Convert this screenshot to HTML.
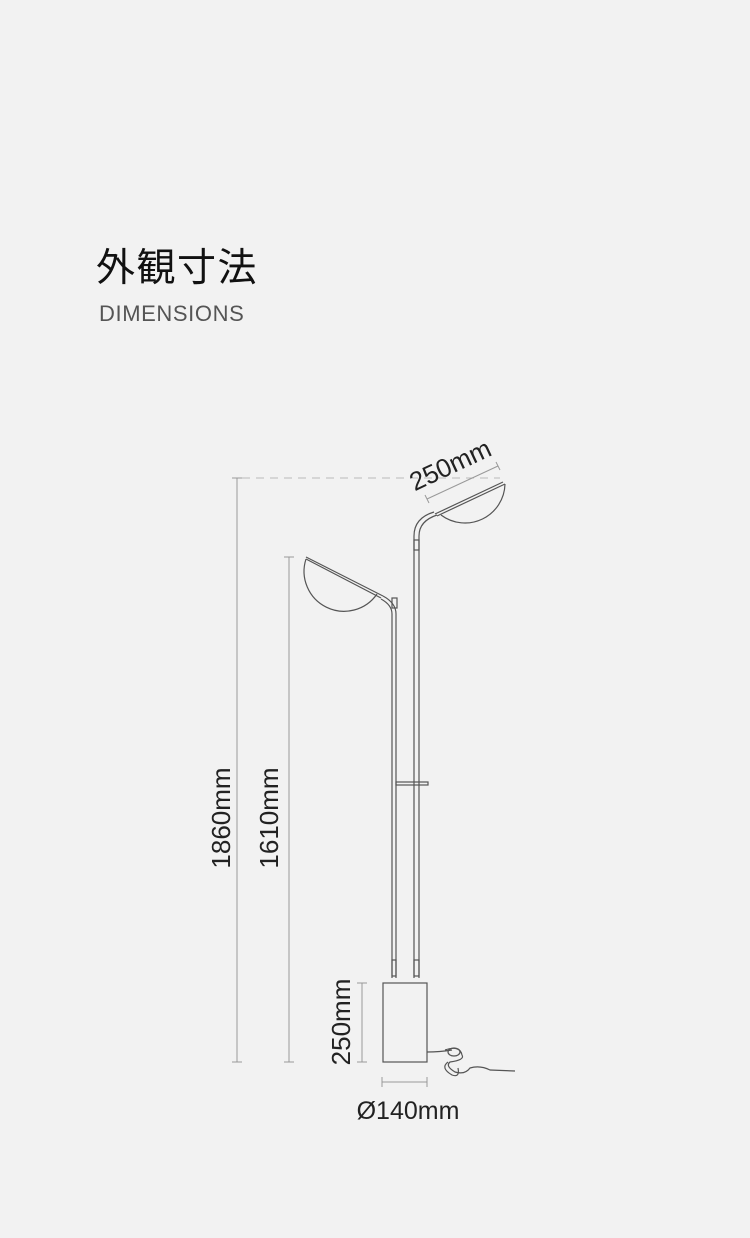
<!DOCTYPE html>
<html><head><meta charset="utf-8"><style>
html,body{margin:0;padding:0;background:#f2f2f2;}
body{width:750px;height:1238px;position:relative;overflow:hidden;font-family:"Liberation Sans","Noto Sans CJK JP",sans-serif;}
.t1{position:absolute;left:96px;top:246px;font-size:39px;color:#111;font-family:"Noto Sans CJK JP",sans-serif;letter-spacing:1.5px;line-height:1;}
.t2{position:absolute;left:99px;top:303px;font-size:22px;color:#555;line-height:1;letter-spacing:0.6px;}
</style></head><body>
<div class="t1">外観寸法</div>
<div class="t2">DIMENSIONS</div>
<svg width="750" height="1238" style="position:absolute;left:0;top:0" xmlns="http://www.w3.org/2000/svg">
<g stroke="#999" stroke-width="1" fill="none">
<line x1="237" y1="478" x2="237" y2="1062"/>
<line x1="232" y1="478" x2="242" y2="478"/>
<line x1="232" y1="1062" x2="242" y2="1062"/>
<line x1="289" y1="557" x2="289" y2="1062"/>
<line x1="284" y1="557" x2="294" y2="557"/>
<line x1="284" y1="1062" x2="294" y2="1062"/>
<line x1="242" y1="478" x2="500" y2="478" stroke-dasharray="8 6" stroke="#bbb"/>
<line x1="362" y1="983" x2="362" y2="1062"/>
<line x1="357" y1="983" x2="367" y2="983"/>
<line x1="357" y1="1062" x2="367" y2="1062"/>
<line x1="382" y1="1082" x2="427" y2="1082"/>
<line x1="382" y1="1077" x2="382" y2="1087"/>
<line x1="427" y1="1077" x2="427" y2="1087"/>
<line x1="427" y1="499" x2="498" y2="466"/>
<line x1="425" y1="495" x2="429" y2="503"/>
<line x1="496" y1="462" x2="500" y2="470"/>
</g>
<g stroke="#555" stroke-width="1.2" fill="none">
<path d="M306 557 L383 596"/>
<path d="M306 559 A40 40 0 0 0 377 594"/>
<path d="M383 596 Q396 603 396 614 L396 978"/>
<path d="M381 599 Q392 605 392 614 L392 978"/>
<rect x="392" y="960" width="4" height="16"/>
<path d="M437 515 Q419 521 419 536 L419 978"/>
<path d="M434 512 Q414 518 414 536 L414 978"/>
<rect x="414" y="540" width="5" height="10"/>
<rect x="392" y="598" width="5" height="10"/>
<rect x="414" y="960" width="5" height="16"/>
<path d="M435 514 L503 482"/>
<path d="M437 516 L505 484"/>
<path d="M505 484 A40 40 0 0 1 441 515"/>
<path d="M306 559 L381 598"/>
<rect x="396" y="782" width="32" height="3"/>
<rect x="383" y="983" width="44" height="79"/>
<path d="M427 1052 Q440 1052 452 1050 M445 1050 Q460 1045 462 1055 Q465 1060 450 1062 Q445 1066 455 1072 Q465 1075 470 1068 Q480 1065 490 1070 L515 1071"/>
<ellipse cx="454" cy="1052" rx="6" ry="4"/>
<path d="M448 1062 Q440 1068 452 1075 Q460 1078 458 1068"/>
</g>
<g fill="#222" font-family="Liberation Sans, sans-serif" font-size="26">
<text transform="translate(230,818) rotate(-90)" text-anchor="middle">1860mm</text>
<text transform="translate(278,818) rotate(-90)" text-anchor="middle">1610mm</text>
<text transform="translate(350,1022) rotate(-90)" text-anchor="middle">250mm</text>
<text transform="translate(454,473) rotate(-25)" text-anchor="middle">250mm</text>
<text x="408" y="1119" text-anchor="middle" font-size="25">Ø140mm</text>
</g>
</svg>
</body></html>
